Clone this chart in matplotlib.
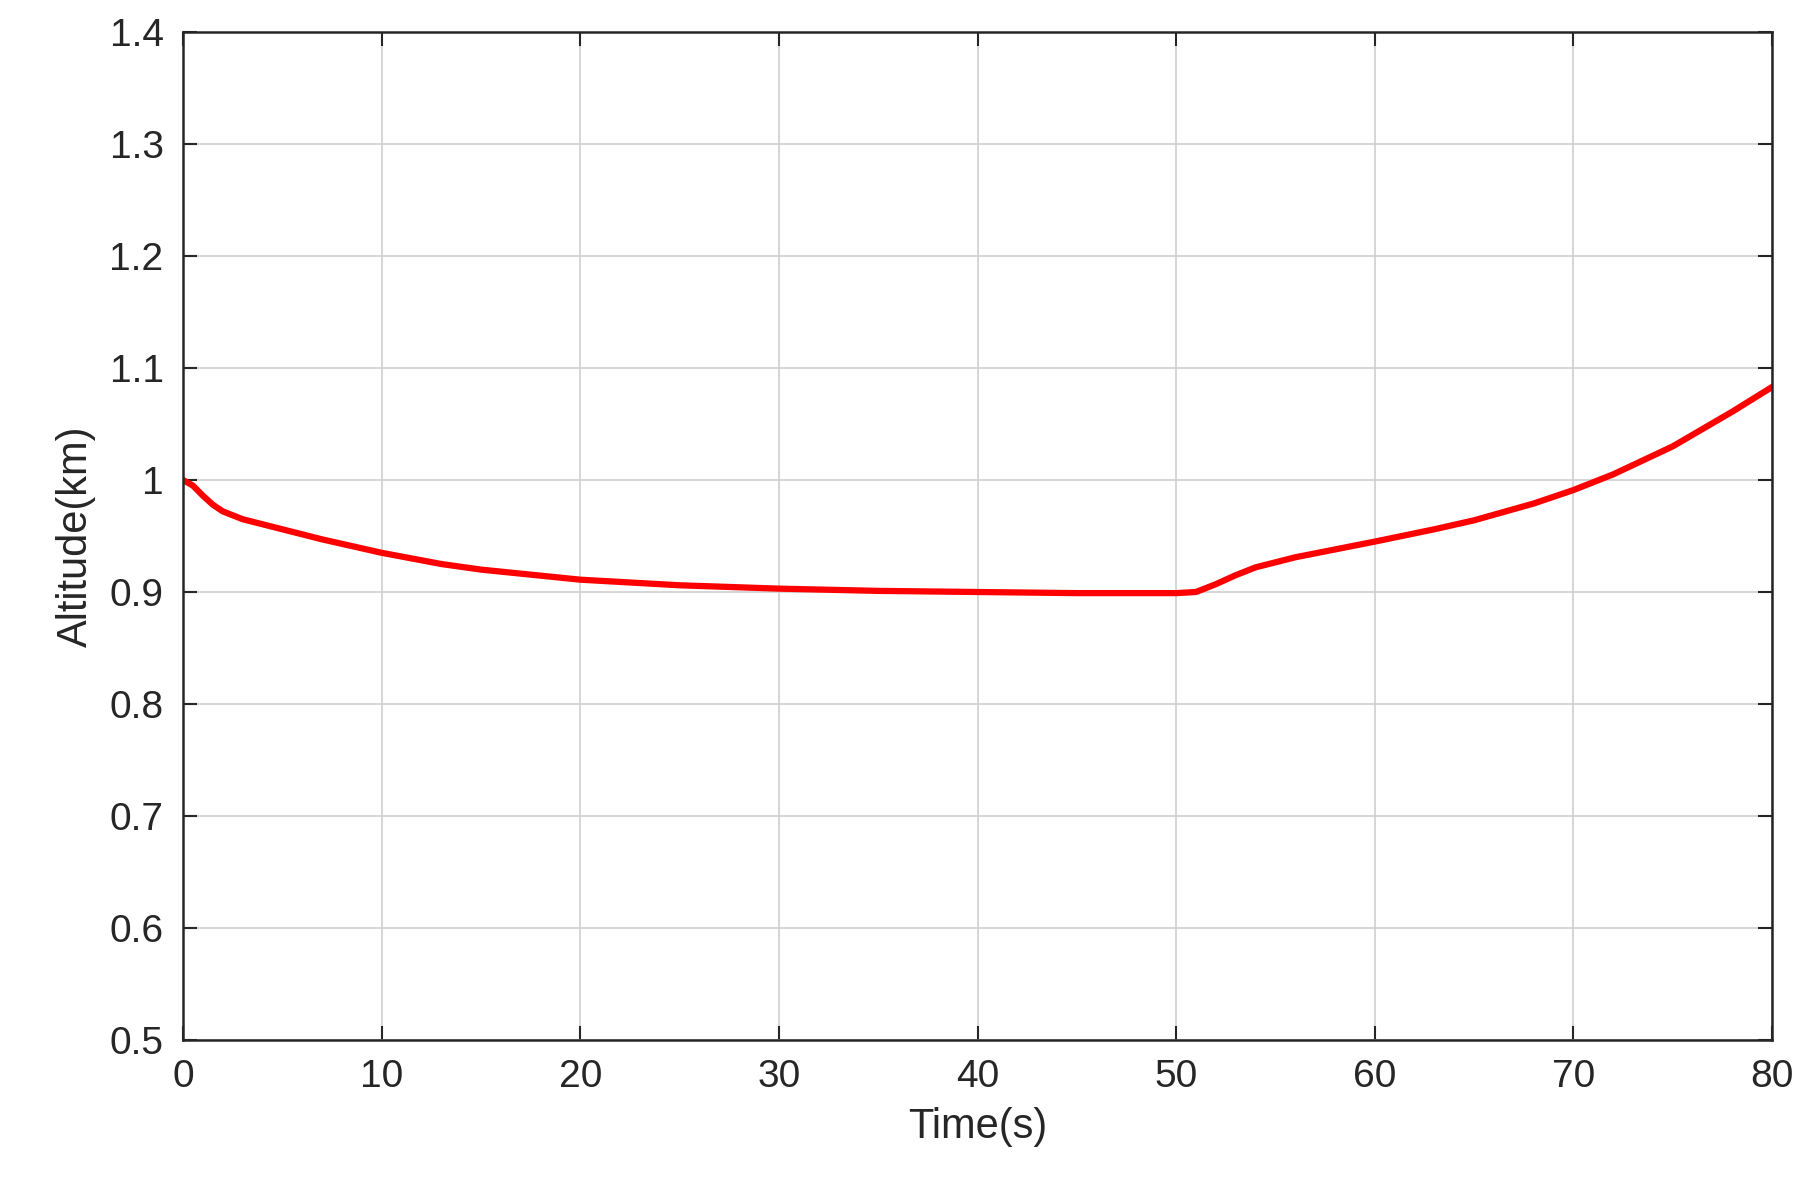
import matplotlib.pyplot as plt

plt.rcParams['font.family'] = ['Liberation Sans', 'DejaVu Sans']

time_s = [0, 0.5, 1, 1.5, 2, 3, 5, 7, 10, 13, 15, 20, 25, 30, 35, 40, 45, 50, 51, 52, 53, 54, 56, 58, 60, 63, 65, 68, 70, 72, 75, 78, 80]
altitude_km = [1.0, 0.995, 0.986, 0.978, 0.972, 0.965, 0.956, 0.947, 0.935, 0.925, 0.920, 0.911, 0.906, 0.903, 0.901, 0.900, 0.899, 0.899, 0.900, 0.907, 0.915, 0.922, 0.931, 0.938, 0.945, 0.956, 0.964, 0.979, 0.991, 1.005, 1.030, 1.061, 1.083]

fig = plt.figure(figsize=(18.13, 11.82), dpi=100)
ax = fig.add_axes([183 / 1813, 1 - 1040 / 1182, (1772 - 183) / 1813, (1040 - 32) / 1182])
ax.plot(time_s, altitude_km, color='red', linewidth=4.5)
ax.set_xlim(0, 80)
ax.set_ylim(0.5, 1.4)
ax.set_xticks(range(0, 81, 10))
ax.set_yticks([0.5, 0.6, 0.7, 0.8, 0.9, 1.0, 1.1, 1.2, 1.3, 1.4])
ax.set_yticklabels(['0.5', '0.6', '0.7', '0.8', '0.9', '1', '1.1', '1.2', '1.3', '1.4'])
ax.grid(True, color='#d0d0d0', linewidth=1.2)
ax.tick_params(labelsize=28, direction='in', length=10, width=1.5, top=True, right=True,
               colors='#262626', pad=14)
for s in ax.spines.values():
    s.set_linewidth(1.8)
    s.set_color('#262626')
ax.set_xlabel('Time(s)', fontsize=30, color='#262626', labelpad=8)
ax.set_ylabel('Altitude(km)', fontsize=30, color='#262626', labelpad=10)
fig.savefig('out.png', dpi=100)
